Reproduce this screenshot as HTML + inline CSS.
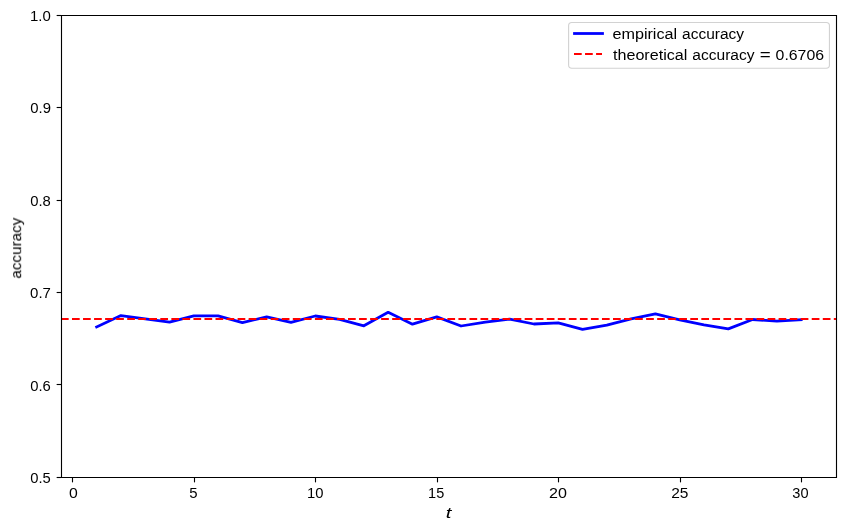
<!DOCTYPE html>
<html><head><meta charset="utf-8"><style>
html,body{margin:0;padding:0;background:#fff;}
svg text{will-change:transform;}
svg{display:block;}
text{font-family:"Liberation Sans",sans-serif;fill:#000;}
</style></head><body>
<svg width="846" height="530" viewBox="0 0 846 530">
<rect width="846" height="530" fill="#fff"/>
<polyline points="96.63,327.00 120.92,315.60 145.22,318.80 169.51,322.20 193.81,315.80 218.10,315.90 242.40,322.60 266.69,316.90 290.98,322.40 315.28,316.00 339.57,319.30 363.87,325.80 388.16,312.30 412.46,324.20 436.75,316.90 461.05,326.00 485.34,322.10 509.64,319.20 533.93,324.00 558.23,322.90 582.52,329.35 606.82,325.20 631.11,318.90 655.40,313.80 679.70,319.90 703.99,324.90 728.29,328.90 752.58,319.50 776.88,321.20 801.17,319.70" fill="none" stroke="#0000ff" stroke-width="2.78" stroke-linejoin="round" stroke-linecap="square"/>
<line x1="61.5" y1="319.0" x2="836.5" y2="319.0" stroke="#ff0000" stroke-width="2.08" stroke-dasharray="7.708 3.333" stroke-dashoffset="0.55"/>
<path d="M61.5 15.5H836.5V477.5H61.5Z" fill="none" stroke="#000" stroke-width="1.11" stroke-linejoin="miter"/>
<line x1="56.64" y1="477.50" x2="61.5" y2="477.50" stroke="#000" stroke-width="1.11"/>
<text transform="matrix(1.05507 0 0 0.99598 30.259 482.761)" font-size="14">0.5</text>
<line x1="56.64" y1="384.50" x2="61.5" y2="384.50" stroke="#000" stroke-width="1.11"/>
<text transform="matrix(1.05911 0 0 0.99598 30.257 390.761)" font-size="14">0.6</text>
<line x1="56.64" y1="292.50" x2="61.5" y2="292.50" stroke="#000" stroke-width="1.11"/>
<text transform="matrix(1.07143 0 0 0.99598 30.100 297.761)" font-size="14">0.7</text>
<line x1="56.64" y1="200.50" x2="61.5" y2="200.50" stroke="#000" stroke-width="1.11"/>
<text transform="matrix(1.05911 0 0 0.99598 30.257 205.761)" font-size="14">0.8</text>
<line x1="56.64" y1="107.50" x2="61.5" y2="107.50" stroke="#000" stroke-width="1.11"/>
<text transform="matrix(1.06319 0 0 0.99598 30.255 112.761)" font-size="14">0.9</text>
<line x1="56.64" y1="15.50" x2="61.5" y2="15.50" stroke="#000" stroke-width="1.11"/>
<text transform="matrix(1.07003 0 0 0.99598 29.976 20.661)" font-size="14">1.0</text>
<line x1="72.50" y1="477.5" x2="72.50" y2="482.36" stroke="#000" stroke-width="1.11"/>
<text transform="matrix(1.12782 0 0 0.99598 69.068 497.661)" font-size="14">0</text>
<line x1="194.50" y1="477.5" x2="194.50" y2="482.36" stroke="#000" stroke-width="1.11"/>
<text transform="matrix(1.06767 0 0 1.01020 189.302 497.659)" font-size="14">5</text>
<line x1="315.50" y1="477.5" x2="315.50" y2="482.36" stroke="#000" stroke-width="1.11"/>
<text transform="matrix(1.05714 0 0 0.99598 307.090 497.661)" font-size="14">10</text>
<line x1="437.50" y1="477.5" x2="437.50" y2="482.36" stroke="#000" stroke-width="1.11"/>
<text transform="matrix(1.03374 0 0 1.01020 428.115 497.659)" font-size="14">15</text>
<line x1="558.50" y1="477.5" x2="558.50" y2="482.36" stroke="#000" stroke-width="1.11"/>
<text transform="matrix(1.14983 0 0 0.99598 548.995 497.661)" font-size="14">20</text>
<line x1="680.50" y1="477.5" x2="680.50" y2="482.36" stroke="#000" stroke-width="1.11"/>
<text transform="matrix(1.10644 0 0 0.99598 671.125 497.661)" font-size="14">25</text>
<line x1="801.50" y1="477.5" x2="801.50" y2="482.36" stroke="#000" stroke-width="1.11"/>
<text transform="matrix(1.04210 0 0 0.99598 792.316 497.661)" font-size="14">30</text>
<text transform="matrix(1.45553 0 0 1.07961 445.783 517.749)" font-size="14" font-style="italic">t</text>
<text transform="matrix(0 -1.08680 1.04762 0 20.820 278.585)" font-size="14">accuracy</text>
<rect x="568.6" y="22.5" width="260.85" height="45.8" rx="3.2" ry="3.2" fill="#fff" fill-opacity="0.8" stroke="#d2d2d2" stroke-width="1.11"/>
<line x1="574.5" y1="33.5" x2="602.5" y2="33.5" stroke="#0000ff" stroke-width="2.78" stroke-linecap="square"/>
<line x1="574.0" y1="54.0" x2="602.0" y2="54.0" stroke="#ff0000" stroke-width="2.08" stroke-dasharray="7.708 3.333"/>
<text transform="matrix(1.15498 0 0 1.06188 612.472 38.578)" font-size="14">empirical</text>
<text transform="matrix(1.11031 0 0 1.03810 682.001 38.648)" font-size="14">accuracy</text>
<text transform="matrix(1.15263 0 0 1.03984 612.958 59.654)" font-size="14">theoretical</text>
<text transform="matrix(1.11212 0 0 1.04762 692.299 59.820)" font-size="14">accuracy</text>
<text transform="matrix(1.34021 0 0 1.02679 759.862 59.744)" font-size="14">=</text>
<text transform="matrix(1.13325 0 0 1.00604 775.565 59.859)" font-size="14">0.6706</text>
</svg></body></html>
